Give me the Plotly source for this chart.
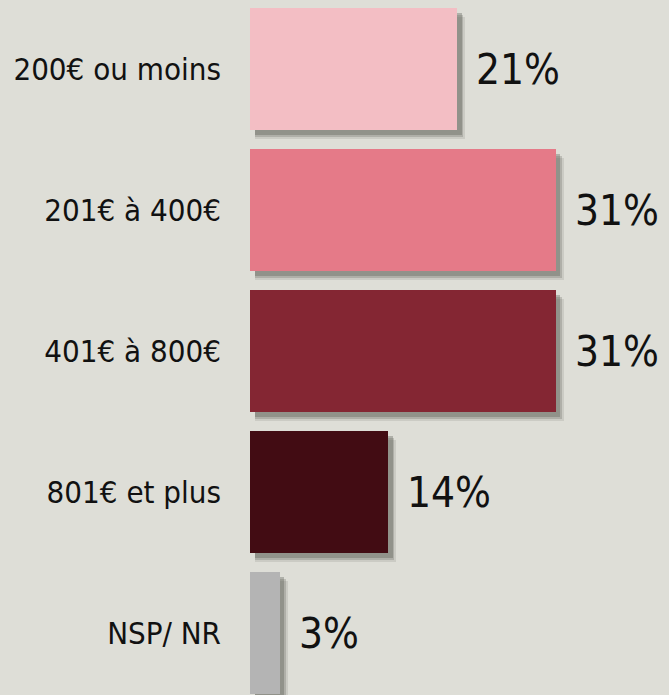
import plotly.graph_objects as go

categories = ["200€ ou moins", "201€ à 400€", "401€ à 800€", "801€ et plus", "NSP/ NR"]
values = [21, 31, 31, 14, 3]
value_labels = ["21%", "31%", "31%", "14%", "3%"]
colors = ["#f3bec4", "#e57a88", "#842633", "#420c13", "#b4b4b4"]

BG = "#deded7"
FONT = "DejaVu Sans Condensed, DejaVu Sans, sans-serif"
W = 0.865

fig = go.Figure()

# drop shadow layers
for dx, dy, alpha in [(0.8, 0.065, 0.14), (0.6, 0.05, 0.25), (0.45, 0.035, 0.35)]:
    fig.add_trace(go.Bar(
        y=list(range(len(categories))), x=[v + dx - 0.5 for v in values], base=0.5,
        orientation="h", width=W, offset=-W / 2 + dy,
        marker=dict(color=f"rgba(90,92,82,{alpha})", line=dict(width=0)),
        hoverinfo="skip", showlegend=False,
    ))

fig.add_trace(go.Bar(
    y=list(range(len(categories))), x=values, orientation="h", width=W,
    marker=dict(color=colors, line=dict(width=0)),
    showlegend=False,
))

for i, (v, t) in enumerate(zip(values, value_labels)):
    fig.add_annotation(x=v, y=i, text=t, showarrow=False, xanchor="left",
                       xshift=17, yshift=-1, font=dict(size=42, color="#111111", family=FONT))

fig.update_layout(
    width=669, height=695,
    margin=dict(l=250, r=0, t=0, b=0),
    paper_bgcolor=BG, plot_bgcolor=BG,
    barmode="overlay", bargap=0,
    font=dict(family=FONT, color="#111111"),
    xaxis=dict(range=[0, 42.45], visible=False, fixedrange=True),
    yaxis=dict(range=[4.44, -0.489], tickmode="array",
               tickvals=list(range(len(categories))), ticktext=categories,
               tickfont=dict(size=31, color="#111111", family=FONT),
               showgrid=False, zeroline=False, showline=False,
               ticks="", ticklabelstandoff=28),
)

fig.write_html("out.html", config={"displayModeBar": False},
               post_script="document.body.style.margin='0';document.body.style.background='%s';" % BG)
